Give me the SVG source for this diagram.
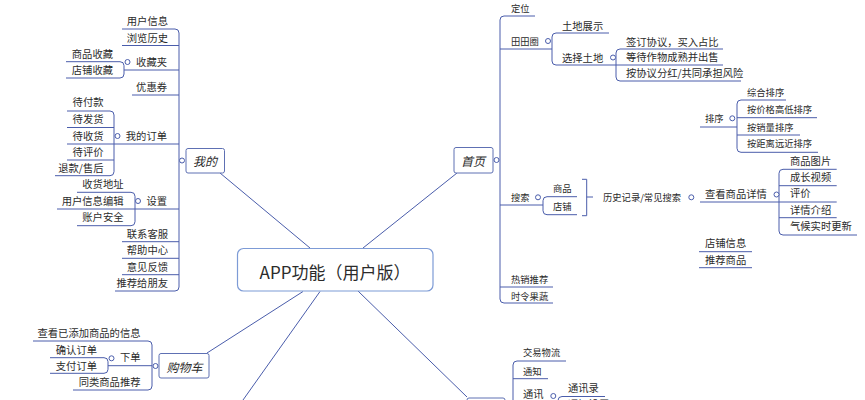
<svg xmlns="http://www.w3.org/2000/svg" width="865" height="400" viewBox="0 0 865 400">
<style>
text{font-family:"Noto Sans CJK SC","Liberation Sans",sans-serif;fill:#2b2b2b;dominant-baseline:central}
.t{font-size:10.3px}
.s{font-size:9.3px}
.e{text-anchor:end}
.i{font-size:12px;font-style:italic;text-anchor:middle}
.c{font-size:17px;text-anchor:middle}
.ln{fill:none;stroke:#4a5dab;stroke-width:1}
.dot{fill:#fff;stroke:#4a5dab;stroke-width:1}
.box{fill:#fff;stroke:#5e70b3;stroke-width:1}
</style>
<g id="connectors" class="ln">
<path d="M220,173 L310,248"/>
<path d="M457,173 L363,248"/>
<path d="M207,353 L303,291.5"/>
<path d="M320,291.5 L243,400"/>
<path d="M358,291 L467,397"/>
<path d="M122,29 H175 Q179,29 179,33 V287 Q179,291 175,291 H115"/>
<path d="M122,45.5 H179 M124,70 H179 M132,95 H179 M114,144 H179 M135,209 H179 M122,241.7 H179 M122,258.3 H179 M122,274.7 H179"/>
<path d="M66,61.7 H120 Q124,61.7 124,65.7 V74 Q124,78 120,78 H66"/>
<path d="M67,111 H110 Q114,111 114,115 V171.7 Q114,175.7 110,175.7 H55"/>
<path d="M67,127.5 H114 M67,144 H114 M67,160 H114"/>
<path d="M77,192.3 H131 Q135,192.3 135,196.3 V221.7 Q135,225.7 131,225.7 H77"/>
<path d="M57,209 H135"/>
<path d="M33,341 H148 Q152,341 152,345 V386 Q152,390 148,390 H73"/>
<path d="M108,365.7 H152"/>
<path d="M50,357.7 H104 Q108,357.7 108,361.7 V369.3 Q108,373.3 104,373.3 H50"/>
<path d="M535,16 H504 Q500,16 500,20 V299 Q500,303 504,303 H553"/>
<path d="M500,49 H552 M500,205 H543 M500,287 H553"/>
<path d="M609,33 H556 Q552,33 552,37 V61 Q552,65 556,65 H723"/>
<path d="M723,49 H620 Q616,49 616,53 V77 Q616,81 620,81 H741"/>
<path d="M577,196.7 H547 Q543,196.7 543,200.7 V210.7 Q543,214.7 547,214.7 H577"/>
<path d="M582,179.3 H586.7 V215.7 H582 M586.7,197 H593"/>
<path d="M700,127 H737"/>
<path d="M786,100 H741 Q737,100 737,104 V148.3 Q737,152.3 741,152.3 H818"/>
<path d="M737,117.7 H817 M737,135 H800"/>
<path d="M700,202 H779"/>
<path d="M836.7,169.3 H783 Q779,169.3 779,173.3 V231 Q779,235 783,235 H857"/>
<path d="M779,185.7 H836.7 M779,202 H836.7 M779,217.7 H836.7"/>
<path d="M699,251.7 H752 M699,267.7 H752"/>
<path d="M566,361 H517 Q513,361 513,365 V402"/>
<path d="M513,378.7 H548"/>
<path d="M605,396.5 H562 Q558,396.5 558,400.5 V410"/>
</g>
<g id="center"><rect x="237.5" y="248.5" width="195.5" height="42.5" rx="6" fill="#fff" stroke="#7d9bd6" stroke-width="1.2"/><text class="c" x="335" y="271">APP功能（用户版）</text></g>
<g id="node-wode"><rect class="box" x="186" y="148.5" width="38.5" height="24.5" rx="2"/><text class="i" x="205" y="160.5">我的</text><circle class="dot" cx="182" cy="160.5" r="2.5"/></g>
<g id="node-shouye"><rect class="box" x="454" y="147.5" width="39" height="25.5" rx="2"/><text class="i" x="473" y="160.5">首页</text><circle class="dot" cx="496.5" cy="160" r="2.5"/></g>
<g id="node-gouwuche"><rect class="box" x="159" y="353.5" width="50" height="24.5" rx="2"/><text class="i" x="184.5" y="366">购物车</text><circle class="dot" cx="155.5" cy="366" r="2.5"/></g>
<g id="node-bottom"><rect class="box" x="467" y="398" width="38" height="25" rx="2"/></g>
<g id="wode-children">
<g id="n-yhxx"><text class="t e" x="168" y="20.5">用户信息</text></g>
<g id="n-llls"><text class="t e" x="168" y="37">浏览历史</text></g>
<g id="n-scj"><text class="t e" x="167" y="61.5">收藏夹</text><circle class="dot" cx="127.5" cy="62" r="2.5"/></g>
<g id="n-spsc"><text class="t e" x="113" y="53">商品收藏</text></g>
<g id="n-dpsc"><text class="t e" x="113" y="69.7">店铺收藏</text></g>
<g id="n-yhq"><text class="t e" x="167" y="86.5">优惠券</text></g>
<g id="n-wddd"><text class="t e" x="167" y="135.5">我的订单</text><circle class="dot" cx="117.5" cy="136" r="2.5"/></g>
<g id="n-dfk"><text class="t e" x="103.5" y="101.5">待付款</text></g>
<g id="n-dfh"><text class="t e" x="103.5" y="118">待发货</text></g>
<g id="n-dsh"><text class="t e" x="103.5" y="135">待收货</text></g>
<g id="n-dpj"><text class="t e" x="103.5" y="151.5">待评价</text></g>
<g id="n-tk"><text class="t e" x="103.5" y="167.3">退款/售后</text></g>
<g id="n-sz"><text class="t e" x="167" y="200.5">设置</text><circle class="dot" cx="138" cy="201" r="2.5"/></g>
<g id="n-shdz"><text class="t e" x="123.5" y="183.7">收货地址</text></g>
<g id="n-yhxxbj"><text class="t e" x="123.5" y="200.3">用户信息编辑</text></g>
<g id="n-zhaq"><text class="t e" x="123.5" y="216.8">账户安全</text></g>
<g id="n-lxkf"><text class="t e" x="168" y="233">联系客服</text></g>
<g id="n-bzzx"><text class="t e" x="168" y="249.5">帮助中心</text></g>
<g id="n-yjfk"><text class="t e" x="168" y="266">意见反馈</text></g>
<g id="n-tjgpy"><text class="t e" x="168" y="282">推荐给朋友</text></g>
</g>
<g id="gouwuche-children">
<g id="n-ckytj"><text class="t e" x="140.5" y="332.3">查看已添加商品的信息</text></g>
<g id="n-xd"><text class="t e" x="140.5" y="356.7">下单</text><circle class="dot" cx="111.5" cy="358.3" r="2.5"/></g>
<g id="n-qrdd"><text class="t e" x="97" y="349">确认订单</text></g>
<g id="n-zfdd"><text class="t e" x="97" y="365">支付订单</text></g>
<g id="n-tlsptj"><text class="t e" x="140.5" y="381.3">同类商品推荐</text></g>
</g>
<g id="shouye-children">
<g id="n-dw"><text class="s" x="511" y="8">定位</text></g>
<g id="n-ttq"><text class="s" x="511" y="41">田田圈</text><circle class="dot" cx="548" cy="41" r="2.5"/></g>
<g id="n-tdzs"><text class="t" x="562" y="25">土地展示</text></g>
<g id="n-xztd"><text class="t" x="562" y="57">选择土地</text><circle class="dot" cx="613" cy="57.5" r="2.5"/></g>
<g id="n-qdxy"><text class="t" x="626" y="41">签订协议，买入占比</text></g>
<g id="n-ddzw"><text class="t" x="626" y="56.5">等待作物成熟并出售</text></g>
<g id="n-axyfh"><text class="t" x="626" y="72">按协议分红/共同承担风险</text></g>
<g id="n-ss"><text class="s" x="511" y="197">搜索</text><circle class="dot" cx="538" cy="197.3" r="2.5"/></g>
<g id="n-sp"><text class="s" x="553" y="188.3">商品</text></g>
<g id="n-dp"><text class="s" x="553" y="206">店铺</text></g>
<g id="n-lsjl"><text class="s" x="603" y="197.3">历史记录/常见搜索</text><circle class="dot" cx="691.3" cy="197.3" r="2.5"/></g>
<g id="n-px"><text class="s" x="705" y="118.3">排序</text><circle class="dot" cx="732.3" cy="118.3" r="2.5"/></g>
<g id="n-zhpx"><text class="s" x="747" y="91.7">综合排序</text></g>
<g id="n-ajg"><text class="s" x="747" y="109.3">按价格高低排序</text></g>
<g id="n-axl"><text class="s" x="747" y="126.7">按销量排序</text></g>
<g id="n-ajl"><text class="s" x="747" y="143.3">按距离远近排序</text></g>
<g id="n-ckspxq"><text class="t" x="705" y="193.3">查看商品详情</text><circle class="dot" cx="776.5" cy="194.5" r="2.5"/></g>
<g id="n-sptp"><text class="t" x="790" y="160">商品图片</text></g>
<g id="n-czsp"><text class="t" x="790" y="176.7">成长视频</text></g>
<g id="n-pj"><text class="t" x="790" y="192.3">评价</text></g>
<g id="n-xqjs"><text class="t" x="790" y="209">详情介绍</text></g>
<g id="n-qhss"><text class="t" x="790" y="225.7">气候实时更新</text></g>
<g id="n-dpxx"><text class="t" x="705" y="242.7">店铺信息</text></g>
<g id="n-tjsp"><text class="t" x="705" y="259">推荐商品</text></g>
<g id="n-rxtj"><text class="s" x="511" y="278.5">热销推荐</text></g>
<g id="n-slgs"><text class="s" x="511" y="295.5">时令果蔬</text></g>
</g>
<g id="bottom-children">
<g id="n-jywl"><text class="s" x="523" y="352.3">交易物流</text></g>
<g id="n-tz"><text class="s" x="523" y="370.7">通知</text></g>
<g id="n-tx"><text class="t" x="523" y="393.3">通讯</text><circle class="dot" cx="553.3" cy="396" r="2.5"/></g>
<g id="n-txl"><text class="t" x="568" y="387.3">通讯录</text></g>
<g id="n-tzsz"><text class="t" x="568" y="403.5">通知设置</text></g>
</g>
</svg>
